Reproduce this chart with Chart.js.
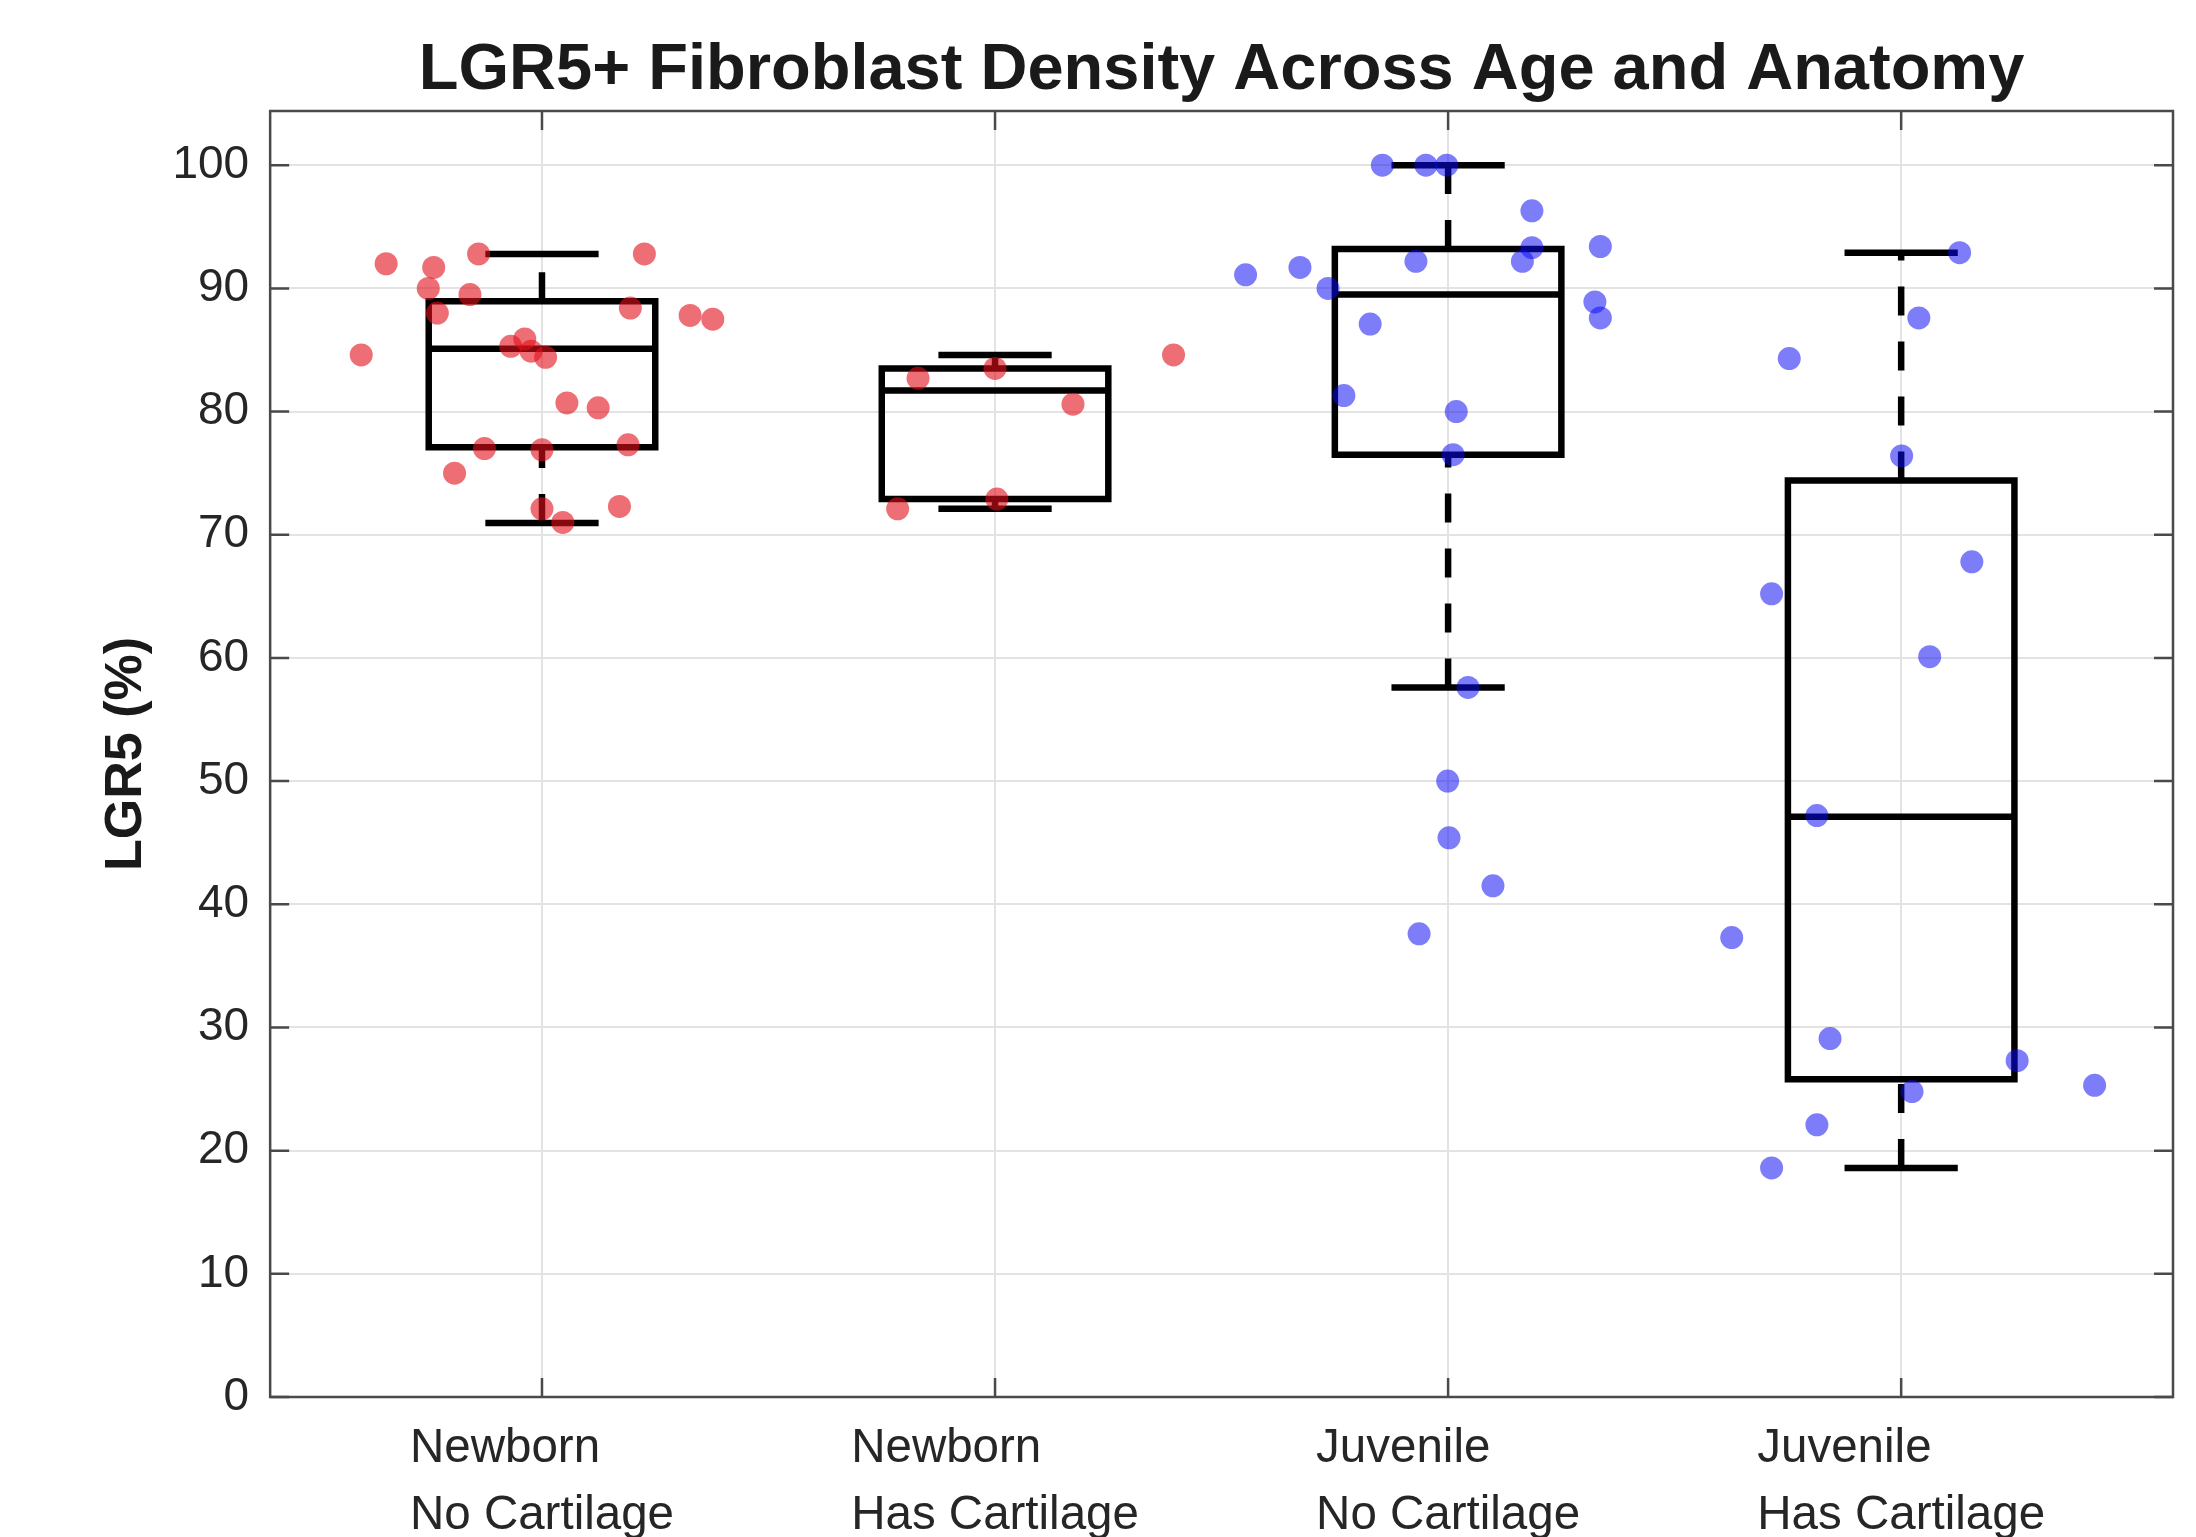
<!DOCTYPE html>
<html>
<head>
<meta charset="utf-8">
<script src="https://cdn.jsdelivr.net/npm/chart.js@4.4.1/dist/chart.umd.min.js"></script>
<style>
  html, body { margin: 0; padding: 0; background: #fff; }
  #wrap { width: 2196px; height: 1537px; }
</style>
</head>
<body>
<div id="wrap"><canvas id="chart" width="2196" height="1537"></canvas></div>
<script>
// group labels (two lines each)
const groupTop = ['Newborn', 'Newborn', 'Juvenile', 'Juvenile'];
const groupBottom = ['No Cartilage', 'Has Cartilage', 'No Cartilage', 'Has Cartilage'];
const yTicks = [0, 10, 20, 30, 40, 50, 60, 70, 80, 90, 100];

// box statistics per group
const q1 = [77.1, 72.9, 76.5, 25.8];
const medians = [85.1, 81.7, 89.5, 47.1];
const q3 = [88.95, 83.5, 93.2, 74.4];
const whiskerLow = [70.95, 72.1, 57.6, 18.6];
const whiskerHigh = [92.8, 84.6, 100, 92.9];

// individual samples (x = jittered group position)
const nbNoX = [0.601, 0.656, 0.761, 0.749, 0.769, 0.841, 0.860, 0.807, 0.873, 0.931, 0.962, 0.976,
  1.008, 1.0, 1.0, 1.046, 1.055, 1.124, 1.195, 1.190, 1.171, 1.226, 1.327, 1.377];
const nbNoY = [84.6, 92.0, 91.7, 90.0, 88.0, 89.5, 92.8, 75.0, 77.0, 85.3, 85.9, 84.9,
  84.4, 76.9, 72.1, 71.0, 80.7, 80.3, 88.4, 77.3, 72.3, 92.8, 87.8, 87.5];
const nbHasX = [1.830, 2.0, 2.172, 1.785, 2.004, 2.394];
const nbHasY = [82.7, 83.5, 80.6, 72.1, 72.9, 84.6];
const juvNoX = [2.855, 2.951, 2.997, 3.185, 3.185, 3.164, 3.336, 2.929, 2.673, 2.553, 2.735,
  3.324, 3.336, 2.828, 2.770, 3.018, 3.011, 3.044, 2.999, 3.002, 3.099, 2.936];
const juvNoY = [100, 100, 100, 96.3, 93.3, 92.2, 93.4, 92.2, 91.7, 91.1, 90.0,
  88.9, 87.6, 87.1, 81.3, 80.0, 76.5, 57.6, 50.0, 45.4, 41.5, 37.6];
const juvHasX = [4.129, 4.039, 3.753, 4.001, 4.156, 3.714, 4.063, 3.814, 3.626, 3.843, 4.256,
  4.427, 4.024, 3.814, 3.714];
const juvHasY = [92.9, 87.6, 84.3, 76.4, 67.8, 65.2, 60.1, 47.2, 37.3, 29.1, 27.3,
  25.3, 24.8, 22.1, 18.6];

const boxHalf = 0.25;
const capHalf = 0.125;
const red = 'rgba(225, 15, 25, 0.6)';
const blue = 'rgba(10, 10, 245, 0.53)';
const textColor = '#262626';
const axisColor = '#4a4a4a';

Chart.defaults.font.family = '"Liberation Sans", Arial, sans-serif';
Chart.defaults.color = textColor;

function zipPoints(xs, ys) {
  return xs.map((x, i) => ({ x: x, y: ys[i] }));
}

// build line paths from the box statistics, null breaks the line between groups
const boxPath = [], medianPath = [], capPath = [], whiskerPath = [];
q1.forEach((_, i) => {
  const c = i + 1;
  boxPath.push({ x: c - boxHalf, y: q1[i] }, { x: c + boxHalf, y: q1[i] },
    { x: c + boxHalf, y: q3[i] }, { x: c - boxHalf, y: q3[i] },
    { x: c - boxHalf, y: q1[i] }, { x: c, y: null });
  medianPath.push({ x: c - boxHalf, y: medians[i] }, { x: c + boxHalf, y: medians[i] }, { x: c, y: null });
  capPath.push({ x: c - capHalf, y: whiskerLow[i] }, { x: c + capHalf, y: whiskerLow[i] }, { x: c, y: null },
    { x: c - capHalf, y: whiskerHigh[i] }, { x: c + capHalf, y: whiskerHigh[i] }, { x: c, y: null });
  // both whiskers run bottom to top, like the original dash phase
  whiskerPath.push({ x: c, y: whiskerLow[i] }, { x: c, y: q1[i] }, { x: c, y: null },
    { x: c, y: q3[i] }, { x: c, y: whiskerHigh[i] }, { x: c, y: null });
});

function lineSet(data, extra) {
  return Object.assign({
    data: data,
    showLine: true,
    spanGaps: false,
    borderColor: '#000',
    borderWidth: 6.5,
    pointRadius: 0,
    pointHoverRadius: 0,
    order: 1
  }, extra || {});
}

function dotSet(xs, ys, color) {
  return {
    data: zipPoints(xs, ys),
    showLine: false,
    pointRadius: 11.5,
    pointBackgroundColor: color,
    pointBorderWidth: 0,
    order: 0
  };
}

// frame, inward ticks and the two-line group labels
const matlabAxes = {
  id: 'matlabAxes',
  beforeDatasetsDraw(chart) {
    const { ctx, chartArea: a, scales } = chart;
    const tickLen = 19;
    ctx.save();
    ctx.strokeStyle = axisColor;
    ctx.lineWidth = 2.5;
    ctx.strokeRect(a.left, a.top, a.right - a.left, a.bottom - a.top);
    ctx.beginPath();
    yTicks.forEach(v => {
      const py = scales.y.getPixelForValue(v);
      ctx.moveTo(a.left, py); ctx.lineTo(a.left + tickLen, py);
      ctx.moveTo(a.right, py); ctx.lineTo(a.right - tickLen, py);
    });
    groupTop.forEach((_, i) => {
      const px = scales.x.getPixelForValue(i + 1);
      ctx.moveTo(px, a.bottom); ctx.lineTo(px, a.bottom - tickLen);
      ctx.moveTo(px, a.top); ctx.lineTo(px, a.top + tickLen);
    });
    ctx.stroke();

    ctx.fillStyle = textColor;
    ctx.font = '47.5px "Liberation Sans", Arial, sans-serif';
    ctx.textAlign = 'left';
    ctx.textBaseline = 'alphabetic';
    groupTop.forEach((t, i) => {
      const px = scales.x.getPixelForValue(i + 1);
      const w = Math.max(ctx.measureText(t).width, ctx.measureText(groupBottom[i]).width);
      ctx.fillText(t, px - w / 2, a.bottom + 65);
      ctx.fillText(groupBottom[i], px - w / 2, a.bottom + 132);
    });
    ctx.restore();
  }
};

new Chart(document.getElementById('chart'), {
  type: 'scatter',
  data: {
    datasets: [
      dotSet(nbNoX, nbNoY, red),
      dotSet(nbHasX, nbHasY, red),
      dotSet(juvNoX, juvNoY, blue),
      dotSet(juvHasX, juvHasY, blue),
      lineSet(boxPath, { borderCapStyle: 'square', borderJoinStyle: 'miter' }),
      lineSet(medianPath),
      lineSet(capPath),
      lineSet(whiskerPath, { borderDash: [29, 26] })
    ]
  },
  options: {
    responsive: false,
    animation: false,
    devicePixelRatio: 1,
    layout: { padding: { left: 0, right: 23, top: 0, bottom: 140 } },
    plugins: {
      legend: { display: false },
      tooltip: { enabled: false },
      title: {
        display: true,
        fullSize: false,
        text: 'LGR5+ Fibroblast Density Across Age and Anatomy',
        color: '#1a1a1a',
        font: { size: 65, weight: 'bold' },
        padding: { top: 32, bottom: 1 }
      }
    },
    scales: {
      x: {
        type: 'linear',
        min: 0.4,
        max: 4.6,
        afterBuildTicks: s => { s.ticks = groupTop.map((_, i) => ({ value: i + 1 })); },
        ticks: { display: false },
        grid: { color: '#e3e3e3', lineWidth: 2, drawTicks: false },
        border: { display: false }
      },
      y: {
        min: 0,
        max: 104.4,
        afterBuildTicks: s => { s.ticks = yTicks.map(v => ({ value: v })); },
        ticks: { font: { size: 46 }, color: textColor, padding: 21 },
        grid: { color: '#e3e3e3', lineWidth: 2, drawTicks: false },
        border: { display: false },
        title: {
          display: true,
          text: 'LGR5 (%)',
          color: '#1a1a1a',
          font: { size: 52, weight: 'bold' },
          padding: { top: 95, bottom: -6 }
        }
      }
    }
  },
  plugins: [matlabAxes]
});
</script>
</body>
</html>
